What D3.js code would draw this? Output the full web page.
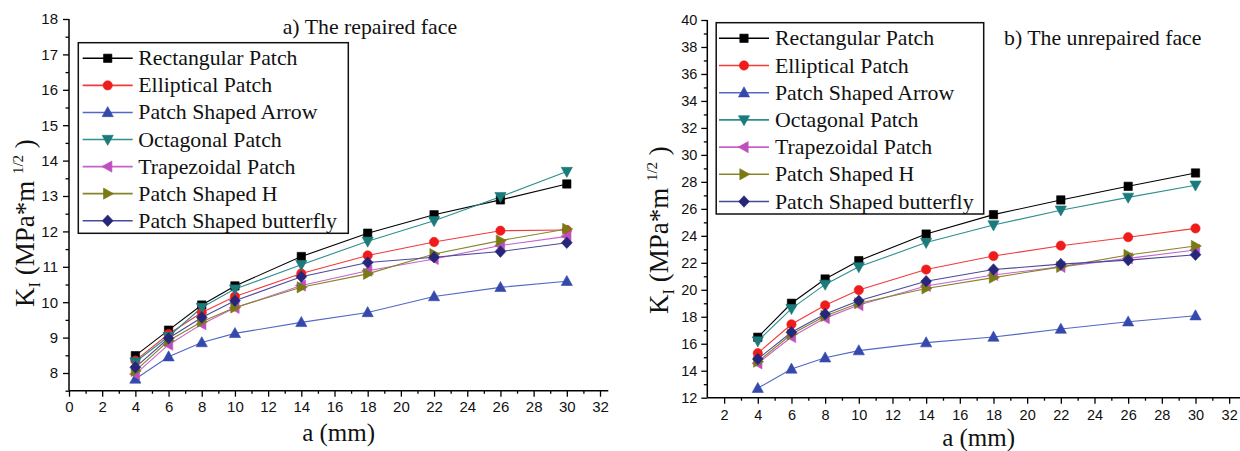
<!DOCTYPE html>
<html>
<head>
<meta charset="utf-8">
<script src="https://cdn.jsdelivr.net/npm/d3@7"></script>
<style>
  html, body { margin: 0; padding: 0; background: #fff; }
  svg { display: block; }
</style>
</head>
<body>
<svg id="chart" width="1240" height="451"></svg>
<script>
// Crack length a (mm) at which K_I was evaluated
const crackLengths = [4, 6, 8, 10, 14, 18, 22, 26, 30];

const seriesNames = [
  "Rectangular Patch",
  "Elliptical Patch",
  "Patch Shaped Arrow",
  "Octagonal Patch",
  "Trapezoidal Patch",
  "Patch Shaped H",
  "Patch Shaped butterfly"
];

// K_I on the repaired face (MPa*m^1/2)
const repairedRectangular = [8.49, 9.21, 9.92, 10.46, 11.29, 11.95, 12.47, 12.89, 13.34];
const repairedElliptical  = [8.35, 9.10, 9.71, 10.16, 10.81, 11.32, 11.70, 12.02, 12.04];
const repairedArrow       = [7.83, 8.46, 8.86, 9.12, 9.43, 9.71, 10.16, 10.42, 10.59];
const repairedOctagonal   = [8.31, 9.03, 9.85, 10.37, 11.06, 11.72, 12.30, 12.98, 13.69];
const repairedTrapezoidal = [7.97, 8.80, 9.38, 9.84, 10.47, 10.89, 11.22, 11.60, 11.86];
const repairedShapeH      = [8.06, 8.91, 9.45, 9.85, 10.42, 10.80, 11.36, 11.74, 12.07];
const repairedButterfly   = [8.16, 8.98, 9.57, 10.04, 10.72, 11.12, 11.27, 11.43, 11.68];

// K_I on the unrepaired face (MPa*m^1/2)
const unrepairedRectangular = [16.48, 19.00, 20.80, 22.16, 24.13, 25.57, 26.66, 27.67, 28.66];
const unrepairedElliptical  = [15.30, 17.44, 18.85, 19.98, 21.50, 22.50, 23.27, 23.90, 24.55];
const unrepairedArrow       = [12.70, 14.13, 14.96, 15.49, 16.08, 16.50, 17.09, 17.63, 18.08];
const unrepairedOctagonal   = [16.20, 18.60, 20.40, 21.70, 23.50, 24.80, 25.90, 26.85, 27.75];
const unrepairedTrapezoidal = [14.55, 16.50, 17.90, 18.87, 20.28, 21.10, 21.70, 22.33, 22.95];
const unrepairedShapeH      = [14.67, 16.70, 18.06, 19.00, 20.10, 20.90, 21.70, 22.58, 23.25];
const unrepairedButterfly   = [14.87, 16.85, 18.20, 19.19, 20.63, 21.50, 21.90, 22.20, 22.60];

// Axis ticks
const leftXTicks  = [0, 2, 4, 6, 8, 10, 12, 14, 16, 18, 20, 22, 24, 26, 28, 30, 32];
const leftYTicks  = [8, 9, 10, 11, 12, 13, 14, 15, 16, 17, 18];
const rightXTicks = [2, 4, 6, 8, 10, 12, 14, 16, 18, 20, 22, 24, 26, 28, 30, 32];
const rightYTicks = [12, 14, 16, 18, 20, 22, 24, 26, 28, 30, 32, 34, 36, 38, 40];

// Styling per series: marker shape, marker colour, line colour
const styles = [
  { shape: "square",   fill: "#000000", line: "#000000" },
  { shape: "circle",   fill: "#f01c1c", line: "#f23a3a" },
  { shape: "triUp",    fill: "#3549ad", line: "#5268c4" },
  { shape: "triDown",  fill: "#1b7b7b", line: "#2f8e8e" },
  { shape: "triLeft",  fill: "#bf4fbf", line: "#c862c8" },
  { shape: "triRight", fill: "#7a7a14", line: "#85852a" },
  { shape: "diamond",  fill: "#26267a", line: "#4a4a9c" }
];

function markerPath(shape) {
  const s = 5.6;  // triangle half-size
  switch (shape) {
    case "square":   return d3.symbol(d3.symbolSquare, 70)();
    case "circle":   return d3.symbol(d3.symbolCircle, 68)();
    case "triUp":    return `M0,${-s*1.05}L${s},${s*0.75}L${-s},${s*0.75}Z`;
    case "triDown":  return `M0,${s*1.05}L${s},${-s*0.75}L${-s},${-s*0.75}Z`;
    case "triLeft":  return `M${-s*1.05},0L${s*0.75},${-s}L${s*0.75},${s}Z`;
    case "triRight": return `M${s*1.05},0L${-s*0.75},${-s}L${-s*0.75},${s}Z`;
    case "diamond":  return "M0,-5.8L5.4,0L0,5.8L-5.4,0Z";
  }
}

const svg = d3.select("#chart");
svg.append("rect").attr("width", 1240).attr("height", 451).attr("fill", "#fff");

const serif = "'Liberation Serif', 'Times New Roman', serif";
const sans = "'Liberation Sans', Arial, sans-serif";

function drawPanel(cfg) {
  const g = svg.append("g");
  const x = d3.scaleLinear().domain(cfg.xDomain).range(cfg.xRange);
  const y = d3.scaleLinear().domain(cfg.yDomain).range(cfg.yRange);

  const xAxisY = cfg.yRange[0];
  const yAxisX = cfg.xRange[0];

  // minor ticks
  const gxMinor = g.append("g").attr("transform", `translate(0,${xAxisY})`)
    .call(d3.axisBottom(x).tickValues(cfg.xMinor).tickSize(3).tickFormat(""));
  const gyMinor = g.append("g").attr("transform", `translate(${yAxisX},0)`)
    .call(d3.axisLeft(y).tickValues(cfg.yMinor).tickSize(3.5).tickFormat(""));
  [gxMinor, gyMinor].forEach(a => {
    a.select(".domain").remove();
    a.selectAll("line").attr("stroke", "#000").attr("stroke-width", 1.3);
  });

  // major ticks with labels
  const gx = g.append("g").attr("transform", `translate(0,${xAxisY})`)
    .call(d3.axisBottom(x).tickValues(cfg.xTicks).tickSize(6).tickPadding(cfg.xPad).tickFormat(d3.format("d")));
  const gy = g.append("g").attr("transform", `translate(${yAxisX},0)`)
    .call(d3.axisLeft(y).tickValues(cfg.yTicks).tickSize(6).tickPadding(cfg.yPad).tickFormat(d3.format("d")));
  [gx, gy].forEach(a => {
    a.select(".domain").attr("stroke", "#000").attr("stroke-width", 1.5);
    a.selectAll("line").attr("stroke", "#000").attr("stroke-width", 1.3);
    a.selectAll("text").attr("fill", "#111").style("font-family", sans).style("font-size", cfg.tickFont + "px");
  });
  gx.select(".domain").attr("d", `M${cfg.xRange[0]},0H${cfg.xRange[1]}`);
  gy.select(".domain").attr("d", `M0,${cfg.yRange[0]}V${cfg.yRange[1]}`);

  // series lines and markers
  const line = d3.line().x((d, i) => x(crackLengths[i])).y(d => y(d));
  cfg.series.forEach((vals, k) => {
    g.append("path").datum(vals)
      .attr("d", line).attr("fill", "none")
      .attr("stroke", styles[k].line).attr("stroke-width", 1.1);
  });
  cfg.series.forEach((vals, k) => {
    g.selectAll(null).data(vals).enter().append("path")
      .attr("d", markerPath(styles[k].shape))
      .attr("transform", (d, i) => `translate(${x(crackLengths[i])},${y(d)})`)
      .attr("fill", styles[k].fill)
      .attr("stroke", styles[k].fill).attr("stroke-width", 0.6);
  });

  // legend
  const L = cfg.legend;
  g.append("rect")
    .attr("x", L.x).attr("y", L.y).attr("width", L.w).attr("height", L.h)
    .attr("fill", "#fff").attr("stroke", "#111").attr("stroke-width", 1.5);
  seriesNames.forEach((name, k) => {
    const cy = L.firstY + k * L.step;
    g.append("line")
      .attr("x1", L.lineX0).attr("x2", L.lineX1).attr("y1", cy).attr("y2", cy)
      .attr("stroke", styles[k].line).attr("stroke-width", 1.6);
    g.append("path")
      .attr("d", markerPath(styles[k].shape))
      .attr("transform", `translate(${(L.lineX0 + L.lineX1) / 2},${cy})`)
      .attr("fill", styles[k].fill).attr("stroke", styles[k].fill).attr("stroke-width", 0.6);
    g.append("text")
      .attr("x", L.textX).attr("y", cy + 7)
      .style("font-family", serif).style("font-size", "21.8px").attr("fill", "#111")
      .text(name);
  });

  // panel title
  g.append("text")
    .attr("x", cfg.title.x).attr("y", cfg.title.y)
    .style("font-family", serif).style("font-size", "21.8px").attr("fill", "#111")
    .text(cfg.title.text);

  // x-axis title
  g.append("text")
    .attr("x", (cfg.xRange[0] + cfg.xRange[1]) / 2 + cfg.xLabelShift).attr("y", cfg.xLabelY)
    .attr("text-anchor", "middle")
    .style("font-family", serif).style("font-size", "25px").attr("fill", "#111")
    .text("a (mm)");

  // y-axis title: K_I (MPa*m^1/2)
  const yl = g.append("text")
    .attr("transform", `translate(${cfg.yLabel.x},${cfg.yLabel.y}) rotate(-90)`)
    .attr("text-anchor", "middle")
    .style("font-family", serif).style("font-size", "27px").attr("fill", "#111");
  yl.append("tspan").text("K");
  yl.append("tspan").attr("dy", 6).style("font-size", "16px").text("I");
  yl.append("tspan").attr("dy", -6).text(" (MPa*m ");
  yl.append("tspan").attr("dy", -11).style("font-size", "15px").text("1/2");
  yl.append("tspan").attr("dy", 11).text("  )");
}

drawPanel({
  xDomain: [0, 32.5], xRange: [69, 608.3],
  yDomain: [7.5, 18], yRange: [390.7, 19],
  xTicks: leftXTicks, yTicks: leftYTicks,
  xMinor: d3.range(1, 33, 2),
  yMinor: d3.range(7.5, 18, 1),
  xPad: 5, yPad: 5, tickFont: 15,
  series: [repairedRectangular, repairedElliptical, repairedArrow, repairedOctagonal,
           repairedTrapezoidal, repairedShapeH, repairedButterfly],
  legend: { x: 78.3, y: 42.7, w: 270, h: 190.6, firstY: 58.3, step: 27.07,
            lineX0: 82.7, lineX1: 132.7, textX: 138.3 },
  title: { x: 282.7, y: 34.3, text: "a) The repaired face" },
  xLabelShift: 0, xLabelY: 441,
  yLabel: { x: 34, y: 223 }
});

drawPanel({
  xDomain: [1, 33], xRange: [707.3, 1246.0],
  yDomain: [12, 40], yRange: [397.7, 20],
  xTicks: rightXTicks, yTicks: rightYTicks,
  xMinor: d3.range(3, 34, 2),
  yMinor: d3.range(13, 40, 2),
  xPad: 6, yPad: 4, tickFont: 14.5,
  series: [unrepairedRectangular, unrepairedElliptical, unrepairedArrow, unrepairedOctagonal,
           unrepairedTrapezoidal, unrepairedShapeH, unrepairedButterfly],
  legend: { x: 716.2, y: 22.7, w: 267.5, h: 191.3, firstY: 38.3, step: 27.2,
            lineX0: 719, lineX1: 769, textX: 775 },
  title: { x: 1004, y: 45, text: "b) The unrepaired face" },
  xLabelShift: 2, xLabelY: 446,
  yLabel: { x: 668, y: 230 }
});
</script>
</body>
</html>
